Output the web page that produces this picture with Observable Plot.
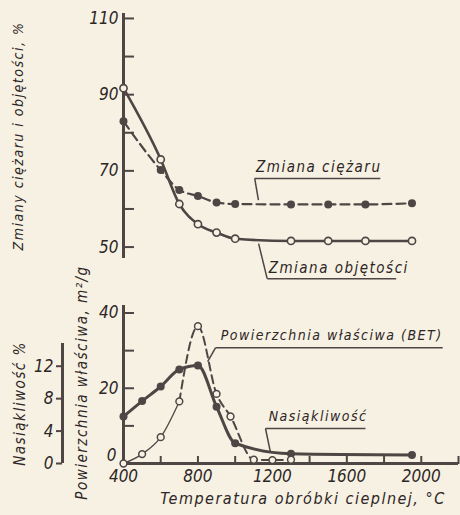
<!DOCTYPE html>
<html><head><meta charset="utf-8">
<script src="https://cdn.jsdelivr.net/npm/d3@7"></script>
<script src="https://cdn.jsdelivr.net/npm/@observablehq/plot@0.6"></script>
<style>
html,body{margin:0;padding:0;background:#f6f1e3;}
#chart{width:460px;height:515px;overflow:hidden;}
#chart svg{display:block;overflow:visible;}
#chart g[aria-label="text"] text{letter-spacing:1.5px;}
</style></head><body><div id="chart"></div>
<script>
// ---- data ----
// top panel: weight and volume change, % vs heat-treatment temperature, °C
const tempTop = [400, 600, 700, 800, 900, 1000, 1300, 1500, 1700, 1950];
const zmianaCiezaru = [83, 70.2, 65, 63.4, 61.7, 61.3, 61.2, 61.2, 61.2, 61.5];
const zmianaObjetosci = [91.7, 73, 61.3, 56, 53.8, 52.2, 51.6, 51.6, 51.6, 51.6];
// bottom panel: water absorption, % (secondary axis)
const tempNas = [400, 500, 600, 700, 800, 900, 1000, 1300, 1950];
const nasiakliwosc = [5.8, 7.7, 9.5, 11.6, 12.1, 7.0, 2.5, 1.2, 1.05];
// bottom panel: specific surface area (BET), m²/g
const tempBet = [400, 500, 600, 700, 800, 900, 975, 1100, 1200, 1300];
const powierzchnia = [0, 2.5, 7, 16.5, 36.5, 18.5, 12.5, 1.0, 0.9, 1.0];
// axis ticks
const xTicks = [400, 600, 800, 1000, 1200, 1400, 1600, 1800, 2000, 2200];
const xTickLabels = [400, 800, 1200, 1600, 2000];
const yTopTicks = [50, 60, 70, 80, 90, 100, 110];
const yTopLabels = [50, 70, 90, 110];
const yBetTicks = [0, 10, 20, 30, 40];
const yBetZero = [0];
const yBetLabels = [20, 40];
const yNasTicks = [0, 4, 8, 12];

// ---- styling / layout ----
const bg = "#f6f1e3";
const ink = "#4f4545";
const txt = "#2e2626";
const FONT = '"Liberation Sans Narrow","DejaVu Sans Condensed",sans-serif';
const xDomain = [400, 2200];
const yTopDomain = [47, 111.3];
const yBotDomain = [0, 42];
const nasTop = 14.8;          // top of the % axis line
const K = 2.155;              // m²/g units per 1 % on the secondary axis
const W = 460, ML = 123, MR = 2;
const frameW = W - ML - MR;
const BOT_H = 225, BOT_MT = 15, BOT_MB = 52;
const frameHB = BOT_H - BOT_MT - BOT_MB;

const topData = tempTop.map((t, i) => ({t, c: zmianaCiezaru[i], o: zmianaObjetosci[i]}));
const nasData = tempNas.map((t, i) => ({t, v: nasiakliwosc[i] * K}));
const betData = tempBet.map((t, i) => ({t, v: powierzchnia[i]}));

// annotation placement (label text with anchor in data units)
const topNotes = [
  {text: "Zmiana ciężaru", t: 1112, v: 70.9},
  {text: "Zmiana objętości", t: 1180, v: 44.4}
];
const topLines = [
  {t1: 1105, v1: 68.0, t2: 1780, v2: 68.0},
  {t1: 1105, v1: 68.0, t2: 1125, v2: 62.3},
  {t1: 1172, v1: 41.7, t2: 1865, v2: 41.7},
  {t1: 1172, v1: 41.7, t2: 1126, v2: 50.9}
];
const botNotes = [
  {text: "Powierzchnia właściwa (BET)", t: 922, v: 34.0},
  {text: "Nasiąkliwość", t: 1180, v: 12.5}
];
const botLines = [
  {t1: 895, v1: 30.8, t2: 2115, v2: 30.8},
  {t1: 895, v1: 30.8, t2: 852, v2: 27.1},
  {t1: 1163, v1: 9.3, t2: 1700, v2: 9.3},
  {t1: 1163, v1: 9.3, t2: 1190, v2: 2.9}
];

const baseStyle = {background: "transparent", fontFamily: FONT, fontStyle: "italic", fontSize: "17px", color: txt};
const blank = () => "";
const plain = d => String(d);

const topPlot = Plot.plot({
  width: W, height: 290,
  marginLeft: ML, marginRight: MR, marginTop: 13, marginBottom: 32,
  style: baseStyle,
  x: {domain: xDomain, axis: null},
  y: {domain: yTopDomain, label: null},
  marks: [
    // inward tick marks (right side of the axis line)
    Plot.axisY(yTopTicks, {anchor: "right", dx: -frameW, tickSize: 10, tickFormat: blank, stroke: ink, strokeWidth: 2, label: null}),
    // labels
    Plot.axisY(yTopLabels, {anchor: "left", tickSize: 0, tickPadding: 5, tickFormat: plain, stroke: "none", label: null, fill: txt}),
    Plot.ruleX([xDomain[0]], {y1: yTopDomain[0], y2: yTopDomain[1], stroke: ink, strokeWidth: 3}),
    Plot.text(["Zmiany ciężaru i objętości, %"], {frameAnchor: "left", textAnchor: "middle", dx: -105, dy: 0, rotate: -90, fontSize: 14, fill: txt}),
    Plot.line(topData, {x: "t", y: "c", stroke: ink, strokeWidth: 2.2, strokeDasharray: "9,5", curve: "monotone-x"}),
    Plot.line(topData, {x: "t", y: "o", stroke: ink, strokeWidth: 2.6, curve: "monotone-x"}),
    Plot.dot(topData, {x: "t", y: "c", r: 4, fill: ink}),
    Plot.dot(topData, {x: "t", y: "o", r: 3.6, fill: bg, stroke: ink, strokeWidth: 1.6}),
    Plot.link(topLines, {x1: "t1", y1: "v1", x2: "t2", y2: "v2", stroke: ink, strokeWidth: 1.5}),
    Plot.text(topNotes, {x: "t", y: "v", text: "text", textAnchor: "start", fontSize: 15, fill: txt})
  ]
});

const botPlot = Plot.plot({
  width: W, height: BOT_H,
  marginLeft: ML, marginRight: MR, marginTop: BOT_MT, marginBottom: BOT_MB,
  style: baseStyle,
  x: {domain: xDomain, label: null},
  y: {domain: yBotDomain, label: null},
  marks: [
    // inward y ticks and labels
    Plot.axisY(yBetTicks, {anchor: "right", dx: -frameW, tickSize: 10, tickFormat: blank, stroke: ink, strokeWidth: 2, label: null}),
    Plot.axisY(yBetLabels, {anchor: "left", tickSize: 0, tickPadding: 5, tickFormat: plain, stroke: "none", label: null, fill: txt}),
    Plot.axisY(yBetZero, {anchor: "left", tickSize: 0, tickPadding: 7, dy: -8, tickFormat: plain, stroke: "none", label: null, fill: txt}),
    // inward x ticks and labels
    Plot.axisX(xTicks, {anchor: "top", dy: frameHB, tickSize: 8, tickFormat: blank, stroke: ink, strokeWidth: 2, label: null}),
    Plot.axisX(xTickLabels, {anchor: "bottom", tickSize: 0, tickPadding: 6, tickFormat: plain, stroke: "none", label: null, fill: txt}),
    Plot.ruleX([xDomain[0]], {y1: yBotDomain[0], y2: yBotDomain[1], stroke: ink, strokeWidth: 3}),
    Plot.ruleY([0], {x1: xDomain[0], x2: xDomain[1], stroke: ink, strokeWidth: 3}),
    // secondary % axis
    Plot.axisY(yNasTicks.map(p => p * K), {anchor: "left", dx: -61, tickSize: 6, tickPadding: 3, tickFormat: d => String(Math.round(d / K)), stroke: ink, strokeWidth: 2, label: null, fill: txt}),
    Plot.ruleX([xDomain[0]], {y1: 0, y2: nasTop * K, dx: -61, stroke: ink, strokeWidth: 3}),
    Plot.text(["Powierzchnia właściwa, m²/g"], {frameAnchor: "left", textAnchor: "middle", dx: -41, dy: -2, rotate: -90, fontSize: 15, fill: txt}),
    Plot.text(["Nasiąkliwość %"], {frameAnchor: "left", textAnchor: "middle", dx: -103, dy: 19, rotate: -90, fontSize: 15, fill: txt}),
    Plot.text(["Temperatura obróbki cieplnej, °C"], {frameAnchor: "bottom", textAnchor: "middle", dx: 12, dy: 40, fontSize: 16, fill: txt}),
    // data
    Plot.line(betData.filter(d => d.t <= 700), {x: "t", y: "v", stroke: ink, strokeWidth: 1.3, curve: "monotone-x"}),
    Plot.line(betData.filter(d => d.t >= 700), {x: "t", y: "v", stroke: ink, strokeWidth: 2, strokeDasharray: "8,5", curve: "monotone-x"}),
    Plot.line(nasData, {x: "t", y: "v", stroke: ink, strokeWidth: 3, curve: "monotone-x"}),
    Plot.dot(nasData, {x: "t", y: "v", r: 4, fill: ink}),
    Plot.dot(betData, {x: "t", y: "v", r: 3.4, fill: bg, stroke: ink, strokeWidth: 1.5}),
    Plot.link(botLines, {x1: "t1", y1: "v1", x2: "t2", y2: "v2", stroke: ink, strokeWidth: 1.5}),
    Plot.text(botNotes, {x: "t", y: "v", text: "text", textAnchor: "start", fontSize: 14, fill: txt})
  ]
});

const root = document.getElementById("chart");
root.appendChild(topPlot);
root.appendChild(botPlot);
</script></body></html>
